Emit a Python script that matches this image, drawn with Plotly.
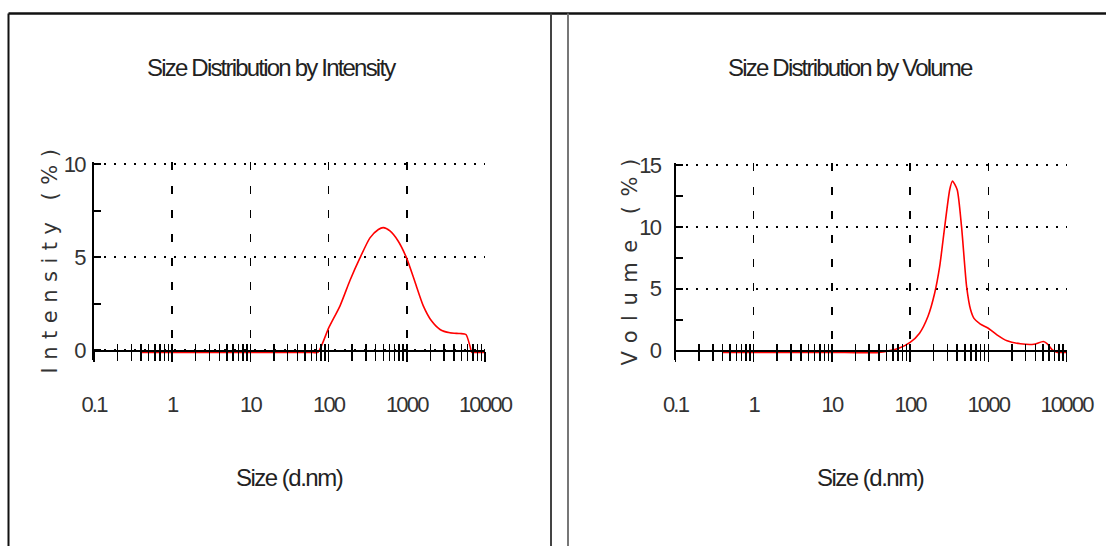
import plotly.graph_objects as go

W, H = 1106, 546

# ---------------- data ----------------
size_intensity = [0.41, 1, 10, 40, 60, 73, 100, 140, 188, 251, 338, 433, 500, 609, 778, 995,
                  1273, 1625, 2080, 2660, 3560, 4790, 5710, 6460, 6770, 8000, 10000]
intensity_pct = [-0.1, -0.1, -0.1, -0.1, -0.1, -0.1, 1.2, 2.4, 3.77, 4.96, 6.05, 6.5, 6.6, 6.42,
                 5.87, 4.96, 3.68, 2.4, 1.58, 1.13, 0.95, 0.91, 0.86, 0.2, -0.1, -0.1, -0.1]

size_volume = [0.4, 1, 10, 40, 73, 100, 132, 169, 206, 239, 277, 321, 348, 400, 455, 528,
               594, 656, 784, 1000, 1290, 1740, 2580, 3820, 5050, 5690, 6600, 7650, 10000]
volume_pct = [-0.15, -0.15, -0.15, -0.15, 0.2, 0.65, 1.4, 2.75, 4.63, 6.8, 10.0, 13.0, 13.7,
              13.0, 10.0, 5.17, 3.29, 2.6, 2.16, 1.8, 1.27, 0.78, 0.54, 0.5, 0.73, 0.54, 0.05,
              -0.15, -0.15]

x_tickvals = [0.1, 1, 10, 100, 1000, 10000]
x_ticktext = ["0.1", "1", "10", "100", "1000", "10000"]
x_minor = [m * 10 ** e for e in (-1, 0, 1, 2, 3) for m in range(2, 10)]

y1_tickvals = [0, 5, 10]
y1_minor = [2.5, 7.5]
y2_tickvals = [0, 5, 10, 15]
y2_minor = [2.5, 7.5, 12.5]

titles = ["Size Distribution by Intensity", "Size Distribution by Volume"]
ytitles = ["Intensity (%)", "Volume (%)"]
xtitle = "Size (d.nm)"

# ---------------- layout geometry (pixels) ----------------
NARROW = "Liberation Sans, Arial, sans-serif"
WIDE = "DejaVu Sans, Verdana, sans-serif"
Y0PX = 350.5


def xdom(p0, p1):
    return [p0 / W, p1 / W]


def ydom(pb, pt):
    return [(H - pb) / H, (H - pt) / H]


def py(v):
    return (H - v) / H


def tight(text, sp):
    return '<span style="letter-spacing:%spx">%s</span>' % (sp, text)


fig = go.Figure()

fig.add_trace(go.Scatter(x=size_intensity, y=intensity_pct, mode="lines",
                         line=dict(color="#ff0000", width=1.6, shape="spline", smoothing=0.6),
                         xaxis="x", yaxis="y", showlegend=False, hoverinfo="skip"))
fig.add_trace(go.Scatter(x=size_volume, y=volume_pct, mode="lines",
                         line=dict(color="#ff0000", width=1.6, shape="spline", smoothing=0.6),
                         xaxis="x2", yaxis="y2", showlegend=False, hoverinfo="skip"))
# empty traces to register the overlay tick axes
fig.add_trace(go.Scatter(x=[], y=[], xaxis="x3", yaxis="y", showlegend=False, hoverinfo="skip"))
fig.add_trace(go.Scatter(x=[], y=[], xaxis="x4", yaxis="y2", showlegend=False, hoverinfo="skip"))

tickfont = dict(family=NARROW, size=22, color="#333333")
TICK_SP = -1.8


def main_xaxis(p0, decade):
    return dict(
        type="log", range=[-1, 4.005], domain=xdom(p0, p0 + 5.005 * decade),
        anchor="free", position=py(Y0PX), automargin=False,
        showline=True, linecolor="black", linewidth=2.8,
        tickmode="array", tickvals=x_tickvals, ticktext=[tight(t, TICK_SP) for t in x_ticktext],
        ticks="outside", ticklen=10, tickwidth=1.5, tickcolor="black",
        minor=dict(tickmode="array", tickvals=x_minor, ticks="outside", ticklen=9,
                   tickwidth=1.5, tickcolor="black", showgrid=False),
        showgrid=True, gridcolor="black", gridwidth=1.5, griddash="8px,16px",
        tickfont=tickfont, ticklabelstandoff=23, zeroline=False, fixedrange=True,
    )


def over_xaxis(base):
    return dict(
        type="log", range=[-1, 4.005], overlaying=base, anchor="free", position=py(Y0PX),
        automargin=False, showline=False, showgrid=False, showticklabels=False,
        tickmode="array", tickvals=x_tickvals,
        ticks="inside", ticklen=7, tickwidth=1.5, tickcolor="black",
        minor=dict(tickmode="array", tickvals=x_minor, ticks="inside", ticklen=7,
                   tickwidth=1.5, tickcolor="black", showgrid=False),
        zeroline=False, fixedrange=True,
    )


def yaxis(rng, dom, tv, mv, standoff, anchor):
    return dict(
        range=rng, domain=dom, anchor=anchor, automargin=False,
        showline=True, linecolor="black", linewidth=2,
        tickmode="array", tickvals=tv, ticktext=[tight(str(v), TICK_SP) for v in tv],
        ticks="inside", ticklen=7, tickwidth=2, tickcolor="black",
        minor=dict(tickmode="array", tickvals=mv, ticks="inside", ticklen=7,
                   tickwidth=2, tickcolor="black", showgrid=False),
        showgrid=True, gridcolor="black", gridwidth=2, griddash="2px,8px",
        zeroline=False, tickfont=tickfont, ticklabelstandoff=standoff, fixedrange=True,
    )


L_X0, R_X0, DEC = 94.0, 675.5, 78.2
ppu1 = (Y0PX - 164.3) / 10.0
ppu2 = (Y0PX - 165.0) / 15.0
y1_rng = [-0.5, 10.1]
y2_rng = [-0.75, 15.15]
y1_dom = ydom(Y0PX - y1_rng[0] * ppu1, Y0PX - y1_rng[1] * ppu1)
y2_dom = ydom(Y0PX - y2_rng[0] * ppu2, Y0PX - y2_rng[1] * ppu2)

fig.update_layout(
    template="none",
    width=W, height=H,
    margin=dict(l=0, r=0, t=0, b=0, pad=0, autoexpand=False),
    paper_bgcolor="white", plot_bgcolor="white",
    showlegend=False,
    xaxis=main_xaxis(L_X0, DEC),
    xaxis2=main_xaxis(R_X0, DEC),
    xaxis3=over_xaxis("x"), xaxis4=over_xaxis("x2"),
    yaxis=yaxis(y1_rng, y1_dom, y1_tickvals, y1_minor, 3, "x"),
    yaxis2=yaxis(y2_rng, y2_dom, y2_tickvals, y2_minor, 9, "x2"),
)

# frame lines
frame = [
    (8.5, 13.5, W, 13.5, "#111111", 2.5),
    (8.5, 13.5, 8.5, H, "#111111", 2),
    (551, 13.5, 551, H, "#444444", 2),
    (568, 13.5, 568, H, "#777777", 2),
]
for x0, y0, x1, y1, c, w in frame:
    fig.add_shape(type="line", xref="paper", yref="paper",
                  x0=x0 / W, y0=py(y0), x1=x1 / W, y1=py(y1),
                  line=dict(color=c, width=w))

# titles and axis titles as annotations
ann = []
for cx, t in zip((271, 850), titles):
    ann.append(dict(text=tight(t, -1.8), x=cx / W, y=py(67), xref="paper", yref="paper",
                    xanchor="center", yanchor="middle", showarrow=False,
                    font=dict(family=NARROW, size=24, color="#222222")))
for cx in (289.5, 870):
    ann.append(dict(text=tight(xtitle, -1.5), x=cx / W, y=py(477), xref="paper", yref="paper",
                    xanchor="center", yanchor="middle", showarrow=False,
                    font=dict(family=NARROW, size=24, color="#222222")))
for cx, t, sp in zip((49, 629), ytitles, (7.5, 9.5)):
    ann.append(dict(text=tight(t, sp),
                    x=cx / W, y=py(257.5), xref="paper", yref="paper",
                    xanchor="center", yanchor="middle", textangle=-90, showarrow=False,
                    font=dict(family=WIDE, size=21, color="#333333")))
fig.update_layout(annotations=ann)

fig.write_html("out.html",
               config={"displayModeBar": False, "staticPlot": True},
               post_script="document.body.style.margin='0';document.body.style.overflow='hidden';")
